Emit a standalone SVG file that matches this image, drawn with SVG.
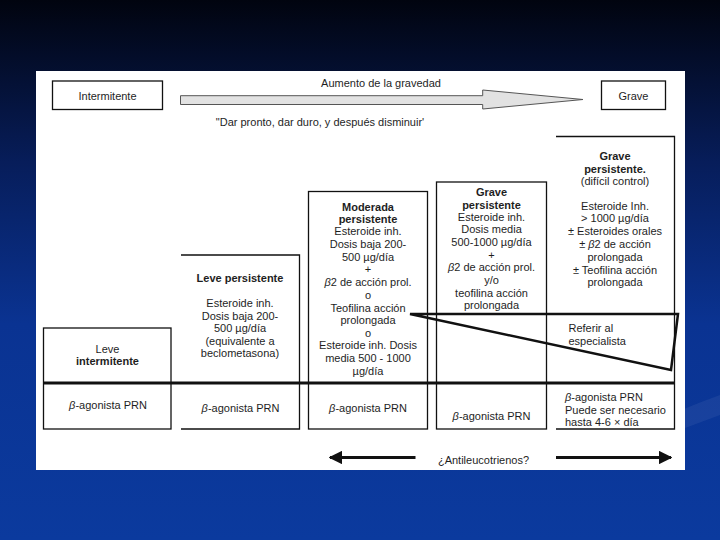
<svg xmlns="http://www.w3.org/2000/svg" width="720" height="540" viewBox="0 0 720 540">
<defs>
<linearGradient id="bg" x1="0" y1="0" x2="0" y2="1">
<stop offset="0" stop-color="#01040f"/>
<stop offset="0.3" stop-color="#071d5a"/>
<stop offset="0.6" stop-color="#0a3392"/>
<stop offset="1" stop-color="#0b3a9e"/>
</linearGradient>
<marker id="ah" viewBox="0 0 10 10" refX="9" refY="5" markerWidth="4.5" markerHeight="4.5" orient="auto-start-reverse" markerUnits="strokeWidth">
<path d="M0,0 L10,5 L0,10 Z" fill="#111"/>
</marker>
<style>
.t{font-family:"Liberation Sans",Arial,sans-serif;font-size:11px;fill:#1e1e1e;text-anchor:middle}
.b{font-weight:bold}
.l{text-anchor:start}
.i{font-style:italic}
.box{fill:none;stroke:#111;stroke-width:1.3}
</style>
</defs>
<rect x="0" y="0" width="720" height="540" fill="url(#bg)"/>
<path d="M560,470 Q650,420 720,395 L720,415 Q650,440 590,470 Z" fill="#ffffff" opacity="0.06"/>
<rect x="36" y="71" width="649" height="399" fill="#ffffff"/>

<g id="intermitente">
<rect class="box" x="52.5" y="81" width="110" height="28.5"/>
<text class="t" x="107.5" y="99.5">Intermitente</text>
</g>
<g id="grave">
<rect class="box" x="601.5" y="81" width="64" height="28.5"/>
<text class="t" x="633.5" y="99.5">Grave</text>
</g>
<g id="aumento">
<text class="t" x="381" y="87">Aumento de la gravedad</text>
<text class="t" x="320" y="126">"Dar pronto, dar duro, y después disminuir'</text>
</g>

<g id="leve-intermitente">
<rect class="box" x="43.5" y="328" width="127.5" height="101"/>
<text class="t" x="107.5" y="352.5">Leve</text>
<text class="t b" x="107.5" y="365">intermitente</text>
<text class="t" x="108" y="408.5"><tspan class="i">β</tspan>-agonista PRN</text>
</g>

<g id="leve-persistente">
<path class="box" d="M181,255 H299.5 V429 H181"/>
<text class="t b" x="240" y="282">Leve persistente</text>
<text class="t" x="240" y="307">Esteroide inh.</text>
<text class="t" x="240" y="319.5">Dosis baja 200-</text>
<text class="t" x="240" y="332">500 µg/día</text>
<text class="t" x="240" y="344.5">(equivalente a</text>
<text class="t" x="240" y="357">beclometasona)</text>
<text class="t" x="240.5" y="412"><tspan class="i">β</tspan>-agonista PRN</text>
</g>

<g id="moderada-persistente">
<rect class="box" x="308.5" y="191.5" width="119" height="237.5"/>
<text class="t b" x="368" y="210.5">Moderada</text>
<text class="t b" x="368" y="223">persistente</text>
<text class="t" x="368" y="235">Esteroide inh.</text>
<text class="t" x="368" y="248">Dosis baja 200-</text>
<text class="t" x="368" y="260.5">500 µg/día</text>
<text class="t" x="368" y="272.5">+</text>
<text class="t" x="368" y="285.5"><tspan class="i">β</tspan>2 de acción prol.</text>
<text class="t" x="368" y="299">o</text>
<text class="t" x="368" y="312">Teofilina acción</text>
<text class="t" x="368" y="324">prolongada</text>
<text class="t" x="368" y="337">o</text>
<text class="t" x="368" y="349">Esteroide inh. Dosis</text>
<text class="t" x="368" y="361.5">media 500 - 1000</text>
<text class="t" x="368" y="374.5">µg/día</text>
<text class="t" x="368" y="412"><tspan class="i">β</tspan>-agonista PRN</text>
</g>

<g id="grave-persistente">
<rect class="box" x="436.5" y="182" width="110" height="247"/>
<text class="t b" x="491.5" y="196">Grave</text>
<text class="t b" x="491.5" y="208.5">persistente</text>
<text class="t" x="491.5" y="221">Esteroide inh.</text>
<text class="t" x="491.5" y="233">Dosis media</text>
<text class="t" x="491.5" y="246">500-1000 µg/día</text>
<text class="t" x="491.5" y="258.5">+</text>
<text class="t" x="491.5" y="271"><tspan class="i">β</tspan>2 de acción prol.</text>
<text class="t" x="491.5" y="284">y/o</text>
<text class="t" x="491.5" y="297">teofilina acción</text>
<text class="t" x="491.5" y="309">prolongada</text>
<text class="t" x="491.5" y="419.5"><tspan class="i">β</tspan>-agonista PRN</text>
</g>

<g id="grave-dificil">
<path class="box" d="M556,136.5 H674.5 V429 H556"/>
<text class="t b" x="615" y="160">Grave</text>
<text class="t b" x="615" y="172.5">persistente.</text>
<text class="t" x="615" y="185">(difícil control)</text>
<text class="t" x="615" y="210">Esteroide Inh.</text>
<text class="t" x="615" y="222">&gt; 1000 µg/día</text>
<text class="t" x="615" y="235">± Esteroides orales</text>
<text class="t" x="615" y="247.5">± <tspan class="i">β</tspan>2 de acción</text>
<text class="t" x="615" y="260.5">prolongada</text>
<text class="t" x="615" y="273.5">± Teofilina acción</text>
<text class="t" x="615" y="286">prolongada</text>
<text class="t l" x="565" y="400.5"><tspan class="i">β</tspan>-agonista PRN</text>
<text class="t l" x="565" y="413.5">Puede ser necesario</text>
<text class="t l" x="565" y="426">hasta 4-6 × día</text>
</g>

<g id="referir">
<text class="t l" x="568.5" y="332">Referir al</text>
<text class="t l" x="568.5" y="345">especialista</text>
</g>

<g id="antileucotrienos">
<text class="t" x="483.5" y="464">¿Antileucotrienos?</text>
</g>

<g id="connectors">
<polygon points="180.5,95.7 482.7,95.7 482.7,90 583,99.5 482.7,109 482.7,104.5 180.5,104.5" fill="#e2e2e2" stroke="#555" stroke-width="1"/>
<line x1="43.5" y1="383" x2="675" y2="383" stroke="#111" stroke-width="3.2"/>
<polygon points="410,314 678,314 671,370" fill="none" stroke="#111" stroke-width="2.5" stroke-linejoin="miter"/>
<line x1="415.5" y1="457.5" x2="330" y2="457.5" stroke="#111" stroke-width="3" marker-end="url(#ah)"/>
<line x1="556" y1="457.5" x2="671" y2="457.5" stroke="#111" stroke-width="3" marker-end="url(#ah)"/>
</g>
</svg>
